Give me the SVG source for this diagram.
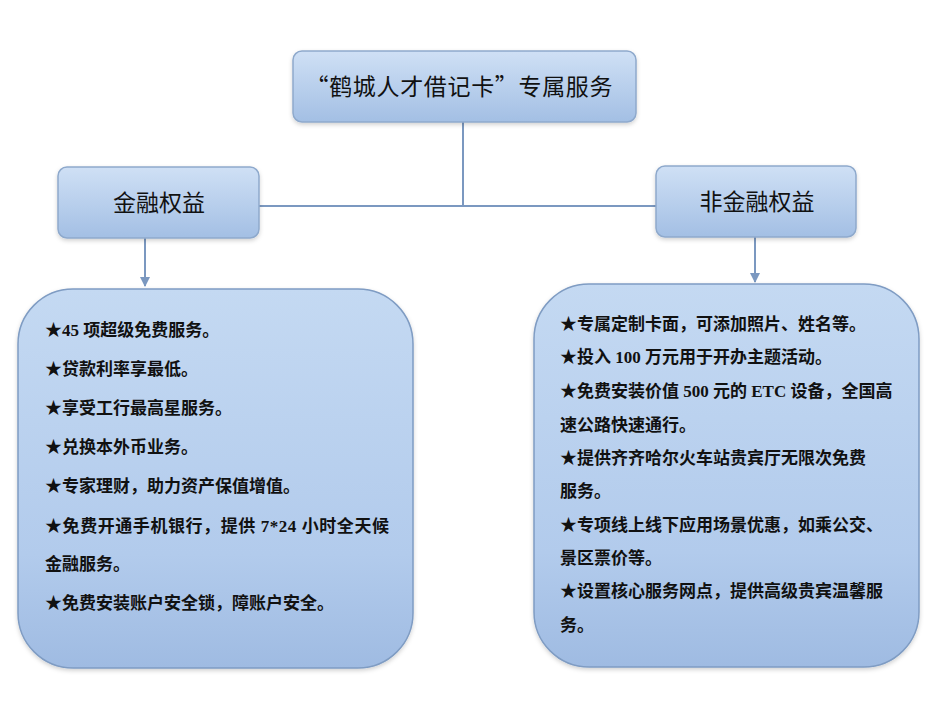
<svg xmlns="http://www.w3.org/2000/svg" width="940" height="721" viewBox="0 0 940 721">
<defs>
<linearGradient id="gBox" x1="0" y1="0" x2="0" y2="1">
<stop offset="0" stop-color="#cfe0f5"/>
<stop offset="1" stop-color="#a3bfe4"/>
</linearGradient>
<linearGradient id="gBig" x1="0" y1="0" x2="0" y2="1">
<stop offset="0" stop-color="#c4d9f2"/>
<stop offset="0.7" stop-color="#b2cbec"/>
<stop offset="1" stop-color="#9fbbe2"/>
</linearGradient>
<filter id="sh" x="-10%" y="-10%" width="120%" height="130%">
<feDropShadow dx="0" dy="2" stdDeviation="2" flood-color="#000" flood-opacity="0.18"/>
</filter>
<marker id="arr" viewBox="0 0 10 10" refX="9" refY="5" markerWidth="5" markerHeight="5" orient="auto" markerUnits="strokeWidth">
<path d="M0,0 L10,5 L0,10 z" fill="#7b98c0"/>
</marker>
<style>
.box{fill:url(#gBox);stroke:#8ea9cc;stroke-width:1.5;filter:url(#sh)}
.big{fill:url(#gBig);stroke:#7f9cc3;stroke-width:1.5;filter:url(#sh)}
.hd{font-family:"Noto Sans CJK SC","Liberation Sans",sans-serif;font-size:23px;fill:#111;text-anchor:middle}
.tx{font-family:"Liberation Serif","Noto Sans CJK SC",serif;font-size:17px;font-weight:bold;fill:#111}
.ln{stroke:#7b98c0;stroke-width:2;fill:none}
</style>
</defs>
<rect width="940" height="721" fill="#ffffff"/>
<g id="connectors">
<path class="ln" d="M463,122 V206 M259,206 H656"/>
<path class="ln" d="M145,238 V286" marker-end="url(#arr)"/>
<path class="ln" d="M755,237 V282" marker-end="url(#arr)"/>
</g>
<g id="title">
<rect class="box" x="293" y="51" width="343" height="71" rx="9"/>
<text class="hd" x="459" y="95" textLength="307" lengthAdjust="spacing">“鹤城人才借记卡”专属服务</text>
</g>
<g id="fin">
<rect class="box" x="58" y="167" width="201" height="71" rx="9"/>
<text class="hd" x="159" y="211">金融权益</text>
</g>
<g id="nonfin">
<rect class="box" x="656" y="166" width="200" height="71" rx="9"/>
<text class="hd" x="757" y="210">非金融权益</text>
</g>
<g id="fin-list">
<rect class="big" x="18" y="289" width="395" height="379" rx="55"/>
<text class="tx" x="45" y="336">★45 项超级免费服务。</text>
<text class="tx" x="45" y="375">★贷款利率享最低。</text>
<text class="tx" x="45" y="414">★享受工行最高星服务。</text>
<text class="tx" x="45" y="453">★兑换本外币业务。</text>
<text class="tx" x="45" y="492">★专家理财，助力资产保值增值。</text>
<text class="tx" x="45" y="532" textLength="344" lengthAdjust="spacing">★免费开通手机银行，提供 7*24 小时全天候</text>
<text class="tx" x="45" y="570">金融服务。</text>
<text class="tx" x="45" y="609">★免费安装账户安全锁，障账户安全。</text>
</g>
<g id="nonfin-list">
<rect class="big" x="534" y="284" width="385" height="383" rx="55"/>
<text class="tx" x="560" y="330">★专属定制卡面，可添加照片、姓名等。</text>
<text class="tx" x="560" y="363">★投入 100 万元用于开办主题活动。</text>
<text class="tx" x="560" y="397">★免费安装价值 500 元的 ETC 设备，全国高</text>
<text class="tx" x="560" y="431">速公路快速通行。</text>
<text class="tx" x="560" y="464">★提供齐齐哈尔火车站贵宾厅无限次免费</text>
<text class="tx" x="560" y="497">服务。</text>
<text class="tx" x="560" y="531">★专项线上线下应用场景优惠，如乘公交、</text>
<text class="tx" x="560" y="564">景区票价等。</text>
<text class="tx" x="560" y="597">★设置核心服务网点，提供高级贵宾温馨服</text>
<text class="tx" x="560" y="631">务。</text>
</g>
</svg>
